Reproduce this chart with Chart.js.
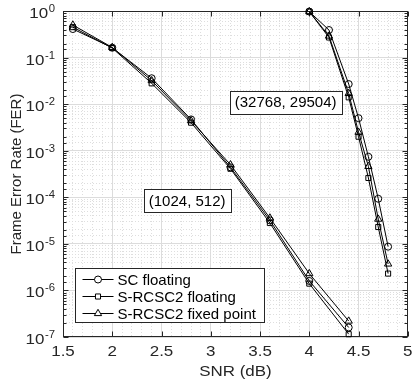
<!DOCTYPE html>
<html>
<head>
<meta charset="utf-8">
<script src="https://cdn.jsdelivr.net/npm/chart.js@4.4.1/dist/chart.umd.min.js"></script>
<style>
  html, body { margin: 0; padding: 0; background: #fff; }
  canvas { display: block; }
</style>
</head>
<body>
<canvas id="myChart" width="413" height="383"></canvas>
<script>
// SNR points (dB) for the two codes
var snrShort = [1.6, 2.0, 2.4, 2.8, 3.2, 3.6, 4.0, 4.4];
var snrLong = [4.0, 4.2, 4.4, 4.5, 4.6, 4.7, 4.8];

// FER, code (1024, 512)
var scFloatShort = [0.41, 0.163, 0.036, 4.7e-3, 4.4e-4, 3.2e-5, 1.6e-6, 1.6e-7];
var rcscFloatShort = [0.45, 0.16, 0.028, 4.0e-3, 4.1e-4, 2.8e-5, 1.4e-6, 1.15e-7];
var rcscFixedShort = [0.5, 0.165, 0.032, 4.4e-3, 5.0e-4, 3.6e-5, 2.3e-6, 2.2e-7];

// FER, code (32768, 29504)
var scFloatLong = [0.97, 0.39, 0.027, 5.0e-3, 7.4e-4, 9.3e-5, 8.7e-6];
var rcscFloatLong = [0.97, 0.27, 0.014, 2.0e-3, 2.6e-4, 2.3e-5, 2.3e-6];
var rcscFixedLong = [0.97, 0.29, 0.017, 2.5e-3, 4.6e-4, 3.4e-5, 3.7e-6];

var seriesNames = ['SC floating', 'S-RCSC2 floating', 'S-RCSC2 fixed point'];
var xTicks = [1.5, 2, 2.5, 3, 3.5, 4, 4.5, 5];
var yExponents = [0, -1, -2, -3, -4, -5, -6, -7];
var codeLabels = ['(1024, 512)', '(32768, 29504)'];
var codeLabelSpots = [[2.76, 8.5e-5], [3.76, 0.0111]];

var markers = ['circle', 'rect', 'triangle'];
var markerSize = { circle: 3.5, rect: 3.6, triangle: 4.2 };
var txt = '#262626';
var font = '"Liberation Sans", Arial, sans-serif';
var stretch = 1.13; // axis texts are a bit wider in the original

function makeSet(label, xs, ys, marker) {
    return {
        label: label,
        data: xs.map(function(x, i) { return { x: x, y: ys[i] }; }),
        borderColor: '#000',
        borderWidth: 1,
        pointStyle: marker,
        pointRadius: markerSize[marker],
        pointBorderColor: '#000',
        pointBackgroundColor: 'rgba(0,0,0,0)',
        pointBorderWidth: 1,
        tension: 0,
        fill: false,
        clip: false
    };
}

function isMajorX(v) {
    return Math.abs(v * 2 - Math.round(v * 2)) < 1e-6;
}
function isDecade(v) {
    var l = Math.log10(v);
    return Math.abs(l - Math.round(l)) < 1e-6;
}

// draw horizontally stretched text
function wideText(c, s, x, y, align) {
    c.save();
    c.translate(x, y);
    c.scale(stretch, 1);
    c.textAlign = align;
    c.fillText(s, 0, 0);
    c.restore();
}

// Axes box, inward ticks, texts, code labels and legend
var decorPlugin = {
    id: 'decor',
    beforeDatasetsDraw: function(chart) {
        var c = chart.ctx, a = chart.chartArea;
        var xs = chart.scales.x, ys = chart.scales.y;
        var L = Math.round(a.left) + 0.5, R = Math.round(a.right) - 0.5;
        var T = Math.round(a.top) + 0.5, B = Math.round(a.bottom) - 0.5;
        c.save();
        c.strokeStyle = txt;
        c.lineWidth = 1;
        c.beginPath();
        xTicks.forEach(function(v) {
            var px = Math.round(xs.getPixelForValue(v)) + 0.5;
            c.moveTo(px, B); c.lineTo(px, B - 5);
            c.moveTo(px, T); c.lineTo(px, T + 5);
        });
        ys.ticks.forEach(function(t) {
            var py = Math.round(ys.getPixelForValue(t.value)) + 0.5;
            var len = isDecade(t.value) ? 5 : 3;
            c.moveTo(L, py); c.lineTo(L + len, py);
            c.moveTo(R, py); c.lineTo(R - len, py);
        });
        c.stroke();
        c.strokeRect(L, T, R - L, B - T);
        c.restore();
    },
    afterDatasetsDraw: function(chart) {
        var c = chart.ctx, a = chart.chartArea;
        var xs = chart.scales.x, ys = chart.scales.y;
        c.save();
        c.fillStyle = txt;

        // x tick labels
        c.font = '15px ' + font;
        c.textBaseline = 'alphabetic';
        xTicks.forEach(function(v) {
            wideText(c, String(v), xs.getPixelForValue(v), a.bottom + 19, 'center');
        });

        // y tick labels 10^n
        yExponents.forEach(function(e) {
            var py = ys.getPixelForValue(Math.pow(10, e));
            var right = a.left - 8;
            c.font = '10px ' + font;
            var exp = String(e);
            var w = c.measureText(exp).width * stretch;
            wideText(c, exp, right, py + 1, 'right');
            c.font = '15px ' + font;
            wideText(c, '10', right - w - 0.5, py + 7, 'right');
        });

        // axis titles
        c.font = '15px ' + font;
        wideText(c, 'SNR (dB)', (a.left + a.right) / 2, a.bottom + 39, 'center');
        c.save();
        c.translate(20.5, (a.top + a.bottom) / 2);
        c.rotate(-Math.PI / 2);
        c.textAlign = 'center';
        c.fillText('Frame Error Rate (FER)', 0, 0);
        c.restore();

        // code labels
        c.font = '15px ' + font;
        c.textBaseline = 'middle';
        codeLabels.forEach(function(s, i) {
            var cx = xs.getPixelForValue(codeLabelSpots[i][0]);
            var cy = ys.getPixelForValue(codeLabelSpots[i][1]);
            var w = Math.round(c.measureText(s).width + 10);
            var h = 23;
            var x0 = Math.round(cx - w / 2) + 0.5, y0 = Math.round(cy - h / 2) + 0.5;
            c.fillStyle = '#fff';
            c.fillRect(x0, y0, w, h);
            c.strokeStyle = txt;
            c.lineWidth = 1;
            c.strokeRect(x0, y0, w, h);
            c.fillStyle = '#000';
            c.textAlign = 'center';
            c.fillText(s, cx, cy + 1);
        });

        // legend
        var lx = Math.round(a.left) + 12.5, ly = Math.round(a.bottom) - 68.5;
        var lw = 189, lh = 54;
        c.fillStyle = '#fff';
        c.fillRect(lx, ly, lw, lh);
        c.strokeStyle = txt;
        c.strokeRect(lx, ly, lw, lh);
        c.textAlign = 'left';
        c.textBaseline = 'middle';
        for (var i = 0; i < seriesNames.length; i++) {
            var ds = chart.data.datasets[i];
            var ry = ly + 11 + i * 17;
            c.strokeStyle = '#000';
            c.lineWidth = 1;
            c.beginPath();
            c.moveTo(lx + 7, ry); c.lineTo(lx + 38, ry);
            c.stroke();
            c.fillStyle = '#fff';
            Chart.helpers.drawPoint(c, {
                pointStyle: ds.pointStyle,
                radius: ds.pointRadius,
                borderWidth: 1,
                rotation: 0
            }, lx + 22.5, ry);
            c.fillStyle = '#000';
            c.font = '15px ' + font;
            c.fillText(seriesNames[i], lx + 42, ry + 1);
        }
        c.restore();
    }
};

var ctx = document.getElementById('myChart').getContext('2d');
var myChart = new Chart(ctx, {
    type: 'line',
    data: {
        datasets: [
            makeSet(seriesNames[0], snrShort, scFloatShort, markers[0]),
            makeSet(seriesNames[1], snrShort, rcscFloatShort, markers[1]),
            makeSet(seriesNames[2], snrShort, rcscFixedShort, markers[2]),
            makeSet(seriesNames[0], snrLong, scFloatLong, markers[0]),
            makeSet(seriesNames[1], snrLong, rcscFloatLong, markers[1]),
            makeSet(seriesNames[2], snrLong, rcscFixedLong, markers[2])
        ]
    },
    options: {
        responsive: false,
        animation: false,
        devicePixelRatio: 1,
        layout: { padding: { left: 63, top: 11, right: 1, bottom: 46 } },
        plugins: {
            legend: { display: false },
            tooltip: { enabled: false }
        },
        scales: {
            x: {
                type: 'linear',
                min: 1.5,
                max: 5,
                ticks: { display: false, stepSize: 0.1 },
                grid: {
                    drawTicks: false,
                    color: function(c) { return isMajorX(c.tick.value) ? '#dcdcdc' : '#dedede'; }
                },
                border: {
                    display: false,
                    dash: function(c) { return c.tick && !isMajorX(c.tick.value) ? [1, 2] : []; }
                }
            },
            y: {
                type: 'logarithmic',
                min: 1e-7,
                max: 1,
                ticks: { display: false },
                grid: {
                    drawTicks: false,
                    color: function(c) { return isDecade(c.tick.value) ? '#dcdcdc' : '#dedede'; }
                },
                border: {
                    display: false,
                    dash: function(c) { return c.tick && !isDecade(c.tick.value) ? [1, 2] : []; }
                }
            }
        }
    },
    plugins: [decorPlugin]
});
</script>
</body>
</html>
